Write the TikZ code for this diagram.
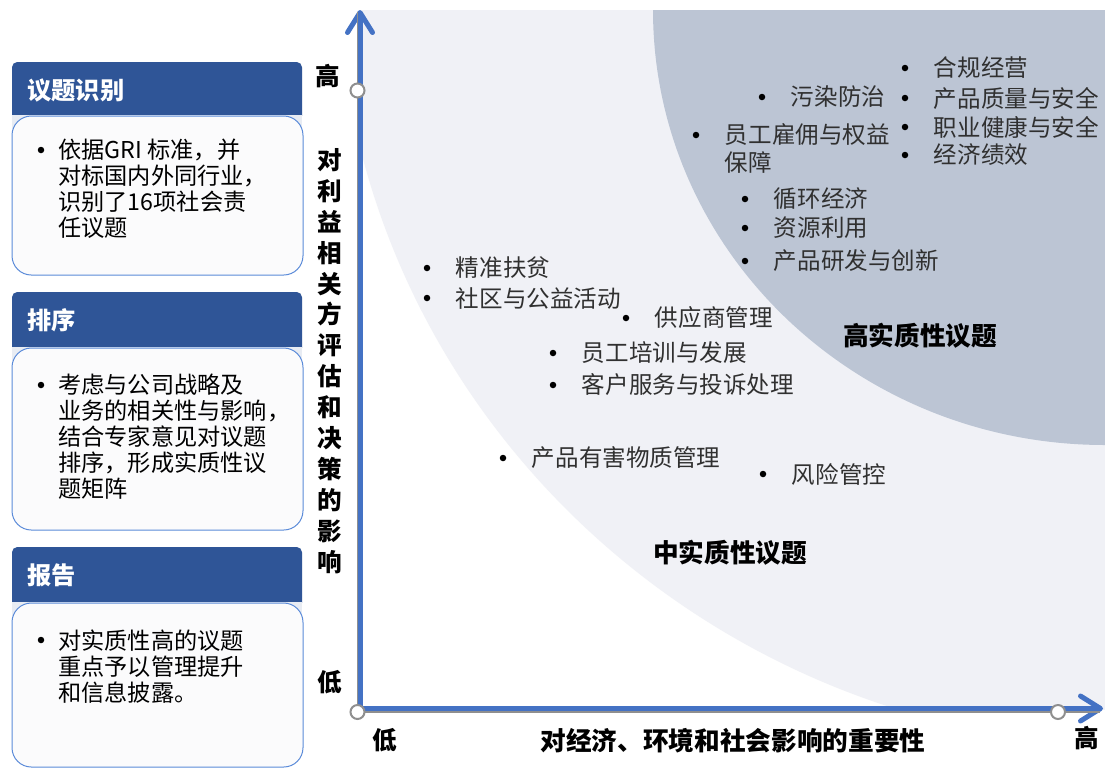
\documentclass[tikz,border=0pt]{standalone}
\usepackage{fontspec}
\setmainfont{Noto Sans CJK SC}
\usetikzlibrary{positioning,arrows.meta}
\definecolor{hdblue}{HTML}{2F5597}
\definecolor{axblue}{HTML}{4472C4}
\definecolor{lightzone}{HTML}{F0F1F6}
\definecolor{darkzone}{HTML}{BCC5D4}
\definecolor{stripc}{HTML}{E8ECF3}
\definecolor{boxfill}{HTML}{FBFBFC}
\definecolor{boxline}{HTML}{5B8BD9}
\definecolor{itemtxt}{HTML}{303030}
\definecolor{ringgray}{HTML}{8F8F8F}
\begin{document}
\begin{tikzpicture}
% 1 unit = 1 px of the 1105x769 sheet, y runs downwards
[x=0.02cm, y=-0.02cm,
 dot/.style={circle, fill=black, inner sep=0pt, minimum size=0.13cm},
 item/.style={inner sep=0pt, text=itemtxt, font=\fontsize{13.4}{16}\selectfont},
 boxtext/.style={inner sep=0pt, align=left, font=\fontsize{13.2}{14.8}\selectfont},
 headtext/.style={inner sep=0pt, text=white, font=\bfseries\fontsize{13.8}{16}\selectfont},
 axlabel/.style={inner sep=0pt, font=\bfseries\fontsize{14}{17.6}\selectfont},
 zonelabel/.style={inner sep=0pt, font=\bfseries\fontsize{14.6}{17}\selectfont},
 ring/.style={circle, draw=ringgray, fill=white, line width=0.04cm, inner sep=0pt, minimum size=0.28cm},
 axis/.style={draw=axblue, line width=0.1cm, -{Straight Barb[length=0.4cm, width=0.5cm, round]}},
 gline/.style={draw=ringgray, line width=0.03cm}]
\useasboundingbox[fill=white] (0,0) rectangle (1105,769);

% zones of the matrix
\begin{scope}
\clip (362,10) rectangle (1105,709);
\fill[lightzone] (1145,-40) ellipse [x radius=808, y radius=787];
\fill[darkzone] (1105,10) ellipse [x radius=452, y radius=435];
\end{scope}

% axes
\coordinate (gtop) at (357.5,12);
\coordinate (gend) at (1100,712);
\coordinate (ybase) at (360,711);
\coordinate (ytip) at (360,10);
\coordinate (xbase) at (358,708.5);
\coordinate (xtip) at (1103,708.5);
\draw[axis] (ybase) -- (ytip);
\draw[axis] (xbase) -- (xtip);
\draw[gline] (gtop) -- (357.5,712) -- (gend);
\node[ring] (yhi) at (357.5,90.5) {};
\node[ring] (orig) at (357.5,712) {};
\node[ring] (xhi) at (1058,712) {};

\node[axlabel] (ytop) at (327.5,76) {高};
\node[axlabel] (ylow) at (330,682) {低};
\node[axlabel] (xlow) at (384.5,740) {低};
\node[axlabel] (xtop) at (1087,738) {高};
\node[axlabel, align=center] (ytitle) at (330,361)
  {对\\利\\益\\相\\关\\方\\评\\估\\和\\决\\策\\的\\影\\响};
\node[zonelabel] (xtitle) at (733,741) {对经济、环境和社会影响的重要性};
\node[zonelabel] (hizone) at (920,336) {高实质性议题};
\node[zonelabel] (midzone) at (730,553) {中实质性议题};

% issues: bullet x / y / label
\foreach \x/\y/\lbl [count=\i] in {905/68/合规经营, 905/98/产品质量与安全,
  905/127/职业健康与安全, 905/155/经济绩效, 762/97/污染防治,
  696/135/员工雇佣与权益, 745/199/循环经济, 745/228/资源利用,
  745/261/产品研发与创新, 427/268/精准扶贫, 427/298/社区与公益活动,
  626/318/供应商管理, 553/353/员工培训与发展, 553/385/客户服务与投诉处理,
  503/458/产品有害物质管理, 763/474/风险管控}{
  \node[dot] (b\i) at (\x,\y) {};
  \node[item, right=0.5cm of b\i] (t\i) {\lbl};
}
\node[item, anchor=west] (t6x) at (t6.west |- 0,162) {保障};

% left panels: top / header bottom / bottom / title / first line / text
\foreach \ytop/\ymid/\ybot/\ttl/\yln/\txt [count=\i] in {
  62/115/275/议题识别/150/{依据GRI 标准，并\\对标国内外同行业，\\识别了16项社会责\\任议题},
  292/347/530/排序/385/{考虑与公司战略及\\业务的相关性与影响，\\结合专家意见对议题\\排序，形成实质性议\\题矩阵},
  547/602/767/报告/640/{对实质性高的议题\\重点予以管理提升\\和信息披露。}}{
  \fill[hdblue, rounded corners=3pt] (12,\ytop) rectangle (302,\ymid+6);
  \fill[stripc] (12,\ymid) rectangle (302,\ymid+14);
  \draw[boxline, fill=boxfill, line width=0.02cm, rounded corners=11pt]
    (12,\ymid+1) rectangle (303,\ybot);
  \node[headtext, anchor=west] (ttl\i) at (27,\ytop+28) {\ttl};
  \node[dot] (bul\i) at (41,\yln) {};
  \node[boxtext, anchor=north west] (txt\i) at (58,\yln-11) {\txt};
}
\end{tikzpicture}
\end{document}
